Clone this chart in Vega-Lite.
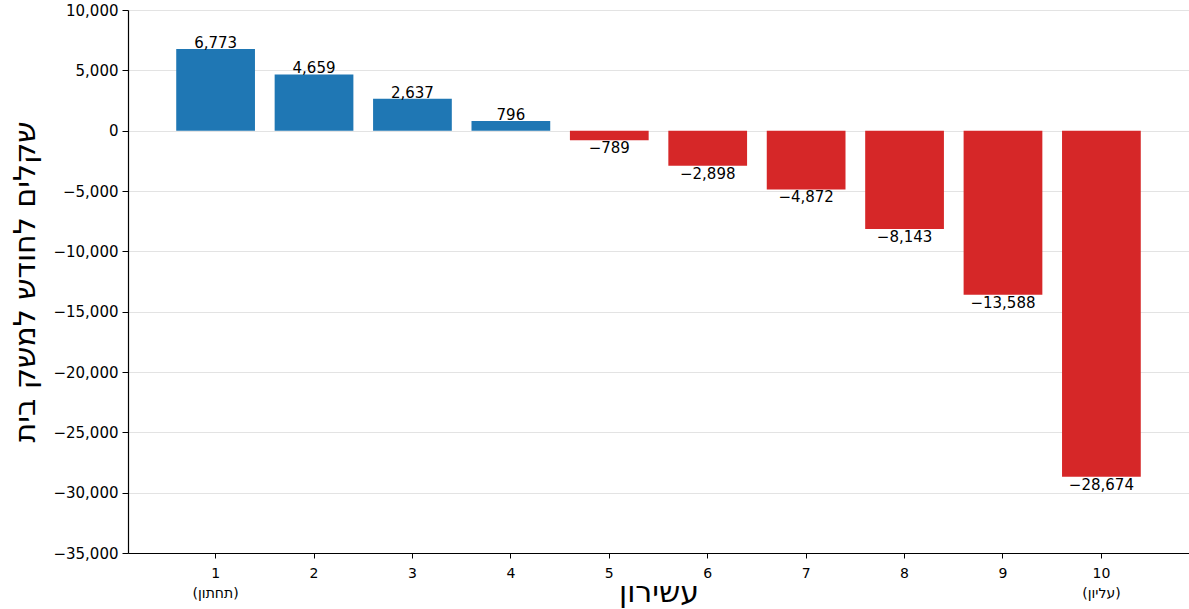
{
  "$schema": "https://vega.github.io/schema/vega-lite/v6.json",
  "width": 1061,
  "height": 543,
  "autosize": {"type": "none"},
  "padding": {"left": 128, "top": 10, "right": 0, "bottom": 56},
  "background": "white",
  "config": {
    "view": {"stroke": null},
    "font": "DejaVu Sans, sans-serif"
  },
  "data": {
    "values": [
      {"decile": 1, "value": 6773},
      {"decile": 2, "value": 4659},
      {"decile": 3, "value": 2637},
      {"decile": 4, "value": 796},
      {"decile": 5, "value": -789},
      {"decile": 6, "value": -2898},
      {"decile": 7, "value": -4872},
      {"decile": 8, "value": -8143},
      {"decile": 9, "value": -13588},
      {"decile": 10, "value": -28674}
    ]
  },
  "encoding": {
    "x": {
      "field": "decile",
      "type": "ordinal",
      "scale": {"paddingInner": 0.2, "paddingOuter": 0.49},
      "axis": {
        "title": "עשירון",
        "titleFontSize": 30,
        "titleFontWeight": "normal",
        "titleColor": "black",
        "titleY": 39,
        "titleBaseline": "middle",
        "labelAngle": 0,
        "labelFontSize": 14,
        "labelColor": "black",
        "labelPadding": 8,
        "labelLineHeight": 20,
        "labelExpr": "datum.value == 1 ? ['1', '(תחתון)'] : datum.value == 10 ? ['10', '(עליון)'] : datum.label",
        "domainColor": "black",
        "domainWidth": 1.2,
        "tickColor": "black",
        "tickSize": 5,
        "grid": false
      }
    },
    "y": {
      "field": "value",
      "type": "quantitative",
      "scale": {"domain": [-35000, 10000], "nice": false},
      "axis": {
        "title": "שקלים לחודש למשק בית",
        "titleFontSize": 30,
        "titleFontWeight": "normal",
        "titleColor": "black",
        "titlePadding": 12,
        "values": [-35000, -30000, -25000, -20000, -15000, -10000, -5000, 0, 5000, 10000],
        "format": ",.0f",
        "labelFontSize": 15,
        "labelColor": "black",
        "labelPadding": 4,
        "domainColor": "black",
        "domainWidth": 1.2,
        "tickColor": "black",
        "tickSize": 6,
        "grid": true,
        "gridColor": "#e3e3e3",
        "gridWidth": 1
      }
    }
  },
  "layer": [
    {
      "mark": {"type": "bar"},
      "encoding": {
        "color": {
          "condition": {"test": "datum.value >= 0", "value": "#1f77b4"},
          "value": "#d62728"
        }
      }
    },
    {
      "transform": [{"filter": "datum.value >= 0"}],
      "mark": {"type": "text", "baseline": "bottom", "dy": 2, "fontSize": 15, "color": "black"},
      "encoding": {"text": {"field": "value", "type": "quantitative", "format": ",.0f"}}
    },
    {
      "transform": [{"filter": "datum.value < 0"}],
      "mark": {"type": "text", "baseline": "top", "dy": 1, "fontSize": 15, "color": "black"},
      "encoding": {"text": {"field": "value", "type": "quantitative", "format": ",.0f"}}
    }
  ]
}
